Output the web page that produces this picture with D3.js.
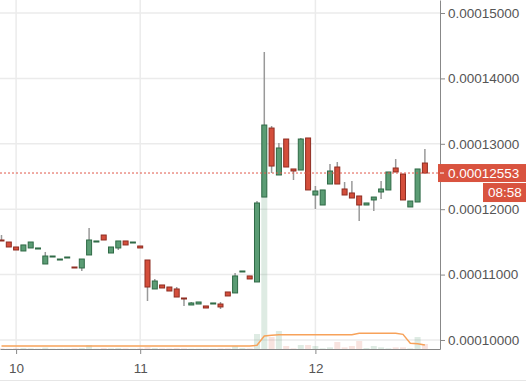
<!DOCTYPE html>
<html lang="en">
<head>
    <meta charset="UTF-8">
    <title>Candles</title>
    <script src="https://d3js.org/d3.v7.min.js"></script>
    <style>
        body { margin: 0; background: #fff; }
        svg { display: block; font-family: "Liberation Sans", Arial, sans-serif; }
    </style>
</head>
<body>
    <script>
        // hourly candles
        const opens = [
            0.00011529, 0.00011498, 0.00011422, 0.00011361, 0.00011407, 0.00011391, 0.00011162, 0.00011269, 0.00011223, 0.00011254,
            0.00011116, 0.00011101, 0.00011300, 0.00011498, 0.00011605, 0.00011330, 0.00011407, 0.00011514, 0.00011483, 0.00011437,
            0.00011223, 0.00010780, 0.00010841, 0.00010810, 0.00010780, 0.00010642, 0.00010535, 0.00010550, 0.00010520, 0.00010550,
            0.00010550, 0.00010734, 0.00010719, 0.00011040, 0.00010979, 0.00010887, 0.00012186, 0.00013241, 0.00012523, 0.00013073,
            0.00012615, 0.00012599, 0.00013089, 0.00012217, 0.00012064, 0.00012385, 0.00012645, 0.00012309, 0.00012248, 0.00012202,
            0.00012064, 0.00012141, 0.00012263, 0.00012294, 0.00012630, 0.00012538, 0.00012034, 0.00012110, 0.00012706
        ];
        const highs = [
            0.00011605, 0.00011498, 0.00011422, 0.00011453, 0.00011498, 0.00011407, 0.00011346, 0.00011284, 0.00011238, 0.00011269,
            0.00011116, 0.00011238, 0.00011712, 0.00011514, 0.00011605, 0.00011422, 0.00011514, 0.00011514, 0.00011498, 0.00011437,
            0.00011223, 0.00010933, 0.00010841, 0.00010810, 0.00010810, 0.00010642, 0.00010581, 0.00010581, 0.00010520, 0.00010566,
            0.00010581, 0.00010734, 0.00011024, 0.00011055, 0.00010979, 0.00012125, 0.00014404, 0.00013272, 0.00013012, 0.00013073,
            0.00012615, 0.00013089, 0.00013089, 0.00012355, 0.00012294, 0.00012691, 0.00012722, 0.00012416, 0.00012431, 0.00012202,
            0.00012095, 0.00012186, 0.00012431, 0.00012569, 0.00012767, 0.00012538, 0.00012125, 0.00012615, 0.00012920
        ];
        const lows = [
            0.00011514, 0.00011422, 0.00011376, 0.00011361, 0.00011407, 0.00011391, 0.00011162, 0.00011269, 0.00011223, 0.00011254,
            0.00011101, 0.00011055, 0.00011300, 0.00011498, 0.00011529, 0.00011330, 0.00011376, 0.00011453, 0.00011483, 0.00011407,
            0.00010596, 0.00010780, 0.00010795, 0.00010749, 0.00010657, 0.00010520, 0.00010535, 0.00010550, 0.00010489, 0.00010550,
            0.00010474, 0.00010673, 0.00010719, 0.00011040, 0.00010933, 0.00010887, 0.00012186, 0.00012553, 0.00012523, 0.00012645,
            0.00012446, 0.00012599, 0.00012294, 0.00012003, 0.00012064, 0.00012385, 0.00012385, 0.00012217, 0.00012171, 0.00011820,
            0.00012064, 0.00011972, 0.00012156, 0.00012294, 0.00012569, 0.00012141, 0.00012034, 0.00012110, 0.00012553
        ];
        const closes = [
            0.00011514, 0.00011422, 0.00011376, 0.00011453, 0.00011498, 0.00011407, 0.00011284, 0.00011284, 0.00011238, 0.00011269,
            0.00011101, 0.00011238, 0.00011529, 0.00011514, 0.00011529, 0.00011422, 0.00011514, 0.00011453, 0.00011498, 0.00011407,
            0.00010810, 0.00010902, 0.00010795, 0.00010749, 0.00010657, 0.00010627, 0.00010566, 0.00010581, 0.00010489, 0.00010566,
            0.00010505, 0.00010673, 0.00010979, 0.00011055, 0.00010933, 0.00012095, 0.00013287, 0.00012660, 0.00012936, 0.00012645,
            0.00012584, 0.00013073, 0.00012294, 0.00012278, 0.00012294, 0.00012584, 0.00012385, 0.00012217, 0.00012171, 0.00012064,
            0.00012095, 0.00012186, 0.00012309, 0.00012569, 0.00012569, 0.00012141, 0.00012125, 0.00012615, 0.00012553
        ];
        const volumes = [
            0.2, 0.1, 0.2, 0.3, 0.2, 0.1, 0.4, 0.1, 0.1, 0.1,
            0.2, 0.3, 1.2, 0.1, 0.3, 0.2, 0.3, 0.2, 0.1, 0.2,
            0.5, 0.3, 0.2, 0.2, 0.3, 0.2, 0.1, 0.1, 0.1, 0.1,
            0.2, 0.2, 0.9, 0.3, 0.2, 4.5, 51, 3.6, 5.4, 0.9,
            0.2, 1.2, 1.2, 0.9, 0.2, 0.5, 2.1, 0.5, 0.9, 2.4,
            0.3, 0.9, 0.5, 0.2, 0.5, 0.5, 0.2, 3.6, 1.5
        ];
        const volumeMA = [
            0.9, 0.9, 0.9, 0.9, 0.9, 0.9, 0.9, 0.9, 0.9, 0.9,
            0.9, 0.9, 0.9, 0.9, 0.9, 0.9, 0.9, 0.9, 0.9, 0.9,
            0.9, 0.9, 0.9, 0.9, 0.9, 0.9, 0.9, 0.9, 0.9, 0.9,
            0.9, 0.9, 0.9, 0.9, 0.9, 1.1, 3.9, 4.1, 4.3, 4.3,
            4.3, 4.3, 4.3, 4.3, 4.3, 4.3, 4.3, 4.3, 4.3, 4.7,
            4.7, 4.7, 4.7, 4.7, 4.7, 4.4, 1.7, 1.6, 1.2
        ];
        const dayTickIndex = [2, 19, 43];
        const dayTickLabels = ['10', '11', '12'];
        const priceTicks = [0.00010, 0.00011, 0.00012, 0.00013, 0.00014, 0.00015];
        const lastPrice = 0.00012553;
        const countdown = '08:58';

        const W = 526, H = 382;
        const plotRight = 440, plotBottom = 349;
        const green = '#5b9c74', greenDark = '#2f6a46';
        const red = '#d44e3b', redDark = '#8f2d22';

        const data = opens.map((o, i) => ({
            i: i, open: o, high: highs[i], low: lows[i], close: closes[i],
            vol: volumes[i], ma: volumeMA[i]
        }));

        const svg = d3.select('body').append('svg')
            .attr('width', W)
            .attr('height', H);

        // candle index -> pixel
        const x = d3.scaleLinear()
            .domain([-0.205, 60.07])
            .range([0, plotRight]);

        const y = d3.scaleLinear()
            .domain([0.00009862, 0.00015199])
            .range([plotBottom, 0]);

        const yVol = d3.scaleLinear()
            .domain([0, 60])
            .range([plotBottom, plotBottom - 200]);

        svg.append('defs').append('clipPath').attr('id', 'plot')
            .append('rect').attr('x', 0).attr('y', 0).attr('width', plotRight).attr('height', plotBottom);

        // grid
        svg.append('g').selectAll('line.h')
            .data(priceTicks).enter().append('line')
            .attr('x1', 0).attr('x2', plotRight)
            .attr('y1', d => y(d)).attr('y2', d => y(d))
            .style('stroke', '#ebebeb').style('stroke-width', 1.5);
        svg.append('g').selectAll('line.v')
            .data(dayTickIndex).enter().append('line')
            .attr('x1', d => x(d)).attr('x2', d => x(d))
            .attr('y1', 0).attr('y2', plotBottom)
            .style('stroke', '#ebebeb').style('stroke-width', 1.5);

        const plot = svg.append('g').attr('clip-path', 'url(#plot)');
        const bw = 5;

        // volume
        plot.selectAll('rect.vol')
            .data(data).enter().append('rect')
            .attr('x', d => x(d.i) - bw / 2 - 0.5)
            .attr('width', bw + 1)
            .attr('y', d => yVol(d.vol))
            .attr('height', d => plotBottom - yVol(d.vol))
            .style('fill', d => d.close >= d.open ? green : red)
            .style('opacity', d => d.close >= d.open ? 0.2 : 0.16);

        plot.append('path')
            .datum(data)
            .attr('d', d3.line().x(d => x(d.i)).y(d => yVol(d.ma)))
            .style('fill', 'none')
            .style('stroke', '#f7a25a')
            .style('stroke-width', 1.5);

        // wicks
        plot.selectAll('line.wick')
            .data(data).enter().append('line')
            .attr('x1', d => x(d.i)).attr('x2', d => x(d.i))
            .attr('y1', d => y(d.high)).attr('y2', d => y(d.low))
            .style('stroke', '#999')
            .style('stroke-width', 1.5);

        // bodies
        plot.selectAll('rect.body')
            .data(data).enter().append('rect')
            .attr('x', d => x(d.i) - bw / 2)
            .attr('width', bw)
            .attr('y', d => y(Math.max(d.open, d.close)))
            .attr('height', d => Math.max(1, Math.abs(y(d.open) - y(d.close))))
            .style('fill', d => d.close >= d.open ? green : red)
            .style('stroke', d => d.close >= d.open ? greenDark : redDark)
            .style('stroke-width', 1);

        // last price line
        svg.append('line')
            .attr('x1', 0).attr('x2', plotRight)
            .attr('y1', y(lastPrice)).attr('y2', y(lastPrice))
            .style('stroke', '#e0574a')
            .style('stroke-width', 1)
            .style('stroke-dasharray', '2,2');

        // axes
        const yAxis = svg.append('g')
            .attr('transform', `translate(${plotRight},0)`)
            .call(d3.axisRight(y).tickValues(priceTicks).tickFormat(d3.format('.8f'))
                .tickSize(5).tickSizeOuter(0).tickPadding(3));
        const xAxis = svg.append('g')
            .attr('transform', `translate(0,${plotBottom})`)
            .call(d3.axisBottom(x).tickValues(dayTickIndex).tickFormat((d, k) => dayTickLabels[k])
                .tickSize(5).tickSizeOuter(0).tickPadding(9));
        [yAxis, xAxis].forEach(a => {
            a.selectAll('path, line').style('stroke', '#888');
            a.selectAll('text').style('fill', '#555').style('font-size', '13.5px')
                .style('font-family', '"Liberation Sans", Arial, sans-serif');
        });

        // price tag + countdown
        const py = y(lastPrice);
        svg.append('rect')
            .attr('x', plotRight - 2).attr('y', py - 9)
            .attr('width', W - plotRight + 2).attr('height', 18)
            .style('fill', '#d9533f');
        svg.append('line')
            .attr('x1', plotRight).attr('x2', plotRight + 4)
            .attr('y1', py).attr('y2', py)
            .style('stroke', '#fff');
        svg.append('text')
            .attr('x', plotRight + 8).attr('y', py)
            .attr('dy', '0.35em')
            .text(d3.format('.8f')(lastPrice))
            .style('fill', '#fff').style('font-size', '13.5px');
        svg.append('rect')
            .attr('x', 483).attr('y', py + 10)
            .attr('width', W - 483).attr('height', 19)
            .style('fill', '#d9533f');
        svg.append('text')
            .attr('x', 488).attr('y', py + 19.5)
            .attr('dy', '0.35em')
            .text(countdown)
            .style('fill', '#fff').style('font-size', '13.5px');

        // faint bottom border
        svg.append('line')
            .attr('x1', 0).attr('x2', W)
            .attr('y1', 380.5).attr('y2', 380.5)
            .style('stroke', '#e6e6e6');
    </script>
</body>
</html>
